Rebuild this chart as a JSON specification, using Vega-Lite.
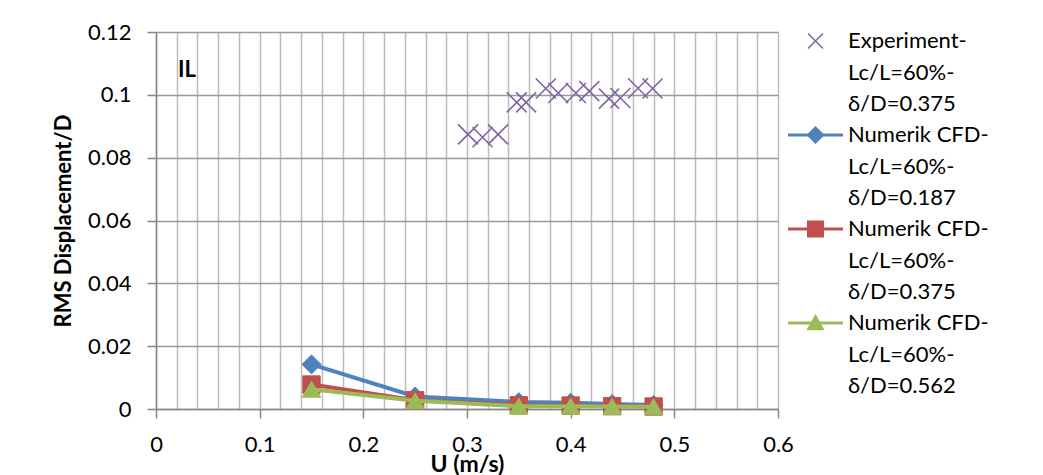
{
  "$schema": "https://vega.github.io/schema/vega-lite/v6.json",
  "width": 622,
  "height": 377,
  "autosize": "none",
  "padding": {"left": 156, "top": 32, "right": 265, "bottom": 66},
  "background": "white",
  "config": {
    "view": {"stroke": null},
    "font": "Lato",
    "style": {"guide-label": {"lineHeight": 31.5}},
    "axis": {
      "labelFont": "Lato",
      "labelFontSize": 22,
      "labelColor": "#000000",
      "titleFont": "Lato",
      "titleFontSize": 22,
      "titleFontWeight": "bold",
      "titleColor": "#000000",
      "domainColor": "#868686",
      "domainWidth": 1.5,
      "tickColor": "#868686",
      "tickWidth": 1.5,
      "tickSize": 9,
      "labelPadding": 16
    },
    "legend": {
      "labelFont": "Lato",
      "labelFontSize": 22,
      "labelColor": "#000000"
    }
  },
  "data": {
    "values": [
      {"series": "Experiment-Lc/L=60%-δ/D=0.375", "u": 0.301, "rms": 0.0874},
      {"series": "Experiment-Lc/L=60%-δ/D=0.375", "u": 0.315, "rms": 0.0865},
      {"series": "Experiment-Lc/L=60%-δ/D=0.375", "u": 0.330, "rms": 0.0874},
      {"series": "Experiment-Lc/L=60%-δ/D=0.375", "u": 0.348, "rms": 0.0976},
      {"series": "Experiment-Lc/L=60%-δ/D=0.375", "u": 0.357, "rms": 0.0976},
      {"series": "Experiment-Lc/L=60%-δ/D=0.375", "u": 0.376, "rms": 0.1020},
      {"series": "Experiment-Lc/L=60%-δ/D=0.375", "u": 0.388, "rms": 0.1006},
      {"series": "Experiment-Lc/L=60%-δ/D=0.375", "u": 0.405, "rms": 0.1006},
      {"series": "Experiment-Lc/L=60%-δ/D=0.375", "u": 0.418, "rms": 0.1012},
      {"series": "Experiment-Lc/L=60%-δ/D=0.375", "u": 0.437, "rms": 0.0988},
      {"series": "Experiment-Lc/L=60%-δ/D=0.375", "u": 0.448, "rms": 0.0990},
      {"series": "Experiment-Lc/L=60%-δ/D=0.375", "u": 0.465, "rms": 0.1021},
      {"series": "Experiment-Lc/L=60%-δ/D=0.375", "u": 0.479, "rms": 0.1020},
      {"series": "Numerik CFD-Lc/L=60%-δ/D=0.187", "u": 0.15, "rms": 0.0142},
      {"series": "Numerik CFD-Lc/L=60%-δ/D=0.187", "u": 0.25, "rms": 0.0040},
      {"series": "Numerik CFD-Lc/L=60%-δ/D=0.187", "u": 0.35, "rms": 0.0022},
      {"series": "Numerik CFD-Lc/L=60%-δ/D=0.187", "u": 0.40, "rms": 0.0020},
      {"series": "Numerik CFD-Lc/L=60%-δ/D=0.187", "u": 0.44, "rms": 0.0016},
      {"series": "Numerik CFD-Lc/L=60%-δ/D=0.187", "u": 0.48, "rms": 0.0013},
      {"series": "Numerik CFD-Lc/L=60%-δ/D=0.375", "u": 0.15, "rms": 0.0078},
      {"series": "Numerik CFD-Lc/L=60%-δ/D=0.375", "u": 0.25, "rms": 0.0028},
      {"series": "Numerik CFD-Lc/L=60%-δ/D=0.375", "u": 0.35, "rms": 0.0012},
      {"series": "Numerik CFD-Lc/L=60%-δ/D=0.375", "u": 0.40, "rms": 0.0011},
      {"series": "Numerik CFD-Lc/L=60%-δ/D=0.375", "u": 0.44, "rms": 0.0009},
      {"series": "Numerik CFD-Lc/L=60%-δ/D=0.375", "u": 0.48, "rms": 0.0008},
      {"series": "Numerik CFD-Lc/L=60%-δ/D=0.562", "u": 0.15, "rms": 0.0063},
      {"series": "Numerik CFD-Lc/L=60%-δ/D=0.562", "u": 0.25, "rms": 0.0026},
      {"series": "Numerik CFD-Lc/L=60%-δ/D=0.562", "u": 0.35, "rms": 0.0009},
      {"series": "Numerik CFD-Lc/L=60%-δ/D=0.562", "u": 0.40, "rms": 0.0009},
      {"series": "Numerik CFD-Lc/L=60%-δ/D=0.562", "u": 0.44, "rms": 0.0008},
      {"series": "Numerik CFD-Lc/L=60%-δ/D=0.562", "u": 0.48, "rms": 0.0007}
    ]
  },
  "encoding": {
    "x": {
      "field": "u",
      "type": "quantitative",
      "title": "U (m/s)",
      "scale": {"domain": [0, 0.6], "nice": false, "zero": false},
      "axis": {
        "values": [0, 0.02, 0.04, 0.06, 0.08, 0.1, 0.12, 0.14, 0.16, 0.18, 0.2, 0.22, 0.24, 0.26, 0.28, 0.3, 0.32, 0.34, 0.36, 0.38, 0.4, 0.42, 0.44, 0.46, 0.48, 0.5, 0.52, 0.54, 0.56, 0.58, 0.6],
        "labelExpr": "abs(datum.value*10 - round(datum.value*10)) < 0.001 ? format(datum.value, '.1~f') : ''",
        "tickOpacity": {"condition": {"test": "abs(datum.value*10 - round(datum.value*10)) < 0.001", "value": 1}, "value": 0},
        "grid": true,
        "gridColor": "#bdbdbd",
        "gridWidth": 1.5,
        "titlePadding": -2,
        "titleFontSize": 23,
        "labelFlush": false,
        "labelOverlap": false
      }
    },
    "y": {
      "field": "rms",
      "type": "quantitative",
      "title": "RMS Displacement/D",
      "scale": {"domain": [0, 0.12], "nice": false},
      "axis": {
        "values": [0, 0.02, 0.04, 0.06, 0.08, 0.1, 0.12],
        "labelExpr": "format(datum.value, '.2~f')",
        "grid": true,
        "gridColor": "#9a9a9a",
        "gridWidth": 1.5,
        "titlePadding": 12,
        "labelFlush": false,
        "labelOverlap": false
      }
    }
  },
  "layer": [
    {
      "transform": [{"filter": "false"}],
      "mark": {"type": "point", "filled": true, "opacity": 1},
      "encoding": {
        "fill": {
          "field": "series", "type": "nominal",
          "scale": {
            "domain": ["Experiment-Lc/L=60%-δ/D=0.375", "Numerik CFD-Lc/L=60%-δ/D=0.187", "Numerik CFD-Lc/L=60%-δ/D=0.375", "Numerik CFD-Lc/L=60%-δ/D=0.562"],
            "range": ["#8064A2", "#4F81BD", "#C0504D", "#9BBB59"]
          },
          "legend": {
            "title": null,
            "orient": "none",
            "legendX": 639.5,
            "legendY": -11,
            "symbolSize": 1600,
            "symbolStrokeWidth": 0,
            "symbolOpacity": 1,
            "labelOffset": 12.5,
            "labelLimit": 0,
            "rowPadding": 0,
            "padding": 0,
            "labelBaseline": "middle",
            "labelExpr": "split(replace(datum.label, regexp('-(?=.)', 'g'), '-|'), '|')"
          }
        },
        "shape": {
          "field": "series", "type": "nominal",
          "scale": {
            "domain": ["Experiment-Lc/L=60%-δ/D=0.375", "Numerik CFD-Lc/L=60%-δ/D=0.187", "Numerik CFD-Lc/L=60%-δ/D=0.375", "Numerik CFD-Lc/L=60%-δ/D=0.562"],
            "range": [
              "M-0.344,-0.399L0.399,0.344L0.344,0.399L-0.399,-0.344ZM0.344,-0.399L0.399,-0.344L-0.344,0.399L-0.399,0.344Z",
              "M-1.375,-0.076L1.375,-0.076L1.375,0.076L-1.375,0.076ZM-0.454,0L0,-0.454L0.454,0L0,0.454Z",
              "M-1.375,-0.076L1.375,-0.076L1.375,0.076L-1.375,0.076ZM-0.426,-0.426L0.426,-0.426L0.426,0.426L-0.426,0.426Z",
              "M-1.375,-0.076L1.375,-0.076L1.375,0.076L-1.375,0.076ZM0,-0.454L0.454,0.358L-0.454,0.358Z"
            ]
          },
          "legend": {
            "title": null,
            "orient": "none",
            "legendX": 639.5,
            "legendY": -11,
            "symbolSize": 1600,
            "symbolStrokeWidth": 0,
            "symbolOpacity": 1,
            "labelOffset": 12.5,
            "labelLimit": 0,
            "rowPadding": 0,
            "padding": 0,
            "labelBaseline": "middle",
            "labelExpr": "split(replace(datum.label, regexp('-(?=.)', 'g'), '-|'), '|')"
          }
        }
      }
    },
    {
      "transform": [{"filter": "indexof(datum.series, 'Experiment') >= 0"}],
      "mark": {"type": "point", "filled": false, "opacity": 1, "size": 400, "strokeWidth": 1.6, "color": "#8064A2", "shape": "M-1,-1L1,1M-1,1L1,-1"}
    },
    {
      "transform": [{"filter": "indexof(datum.series, '0.187') >= 0"}],
      "mark": {"type": "line", "strokeWidth": 4, "opacity": 1, "color": "#4F81BD"}
    },
    {
      "transform": [{"filter": "indexof(datum.series, '0.187') >= 0"}],
      "mark": {"type": "point", "filled": true, "opacity": 1, "size": 360, "strokeWidth": 1, "color": "#4F81BD", "stroke": "#4F81BD", "shape": "diamond"}
    },
    {
      "transform": [{"filter": "indexof(datum.series, 'CFD-Lc/L=60%-δ/D=0.375') >= 0"}],
      "mark": {"type": "line", "strokeWidth": 4, "opacity": 1, "color": "#C0504D"}
    },
    {
      "transform": [{"filter": "indexof(datum.series, 'CFD-Lc/L=60%-δ/D=0.375') >= 0"}],
      "mark": {"type": "point", "filled": true, "opacity": 1, "size": 300, "strokeWidth": 1, "color": "#C0504D", "stroke": "#C0504D", "shape": "square"}
    },
    {
      "transform": [{"filter": "indexof(datum.series, '0.562') >= 0"}],
      "mark": {"type": "line", "strokeWidth": 4, "opacity": 1, "color": "#9BBB59"}
    },
    {
      "transform": [{"filter": "indexof(datum.series, '0.562') >= 0"}],
      "mark": {"type": "point", "filled": true, "opacity": 1, "size": 340, "strokeWidth": 1, "color": "#9BBB59", "stroke": "#9BBB59", "shape": "triangle-up"}
    },
    {
      "data": {"values": [{"u": 0.0298, "rms": 0.108, "label": "IL"}]},
      "mark": {"type": "text", "font": "Lato", "fontSize": 22, "fontWeight": "bold", "color": "#000000", "baseline": "middle", "align": "center"},
      "encoding": {"text": {"field": "label", "type": "nominal"}}
    }
  ]
}
